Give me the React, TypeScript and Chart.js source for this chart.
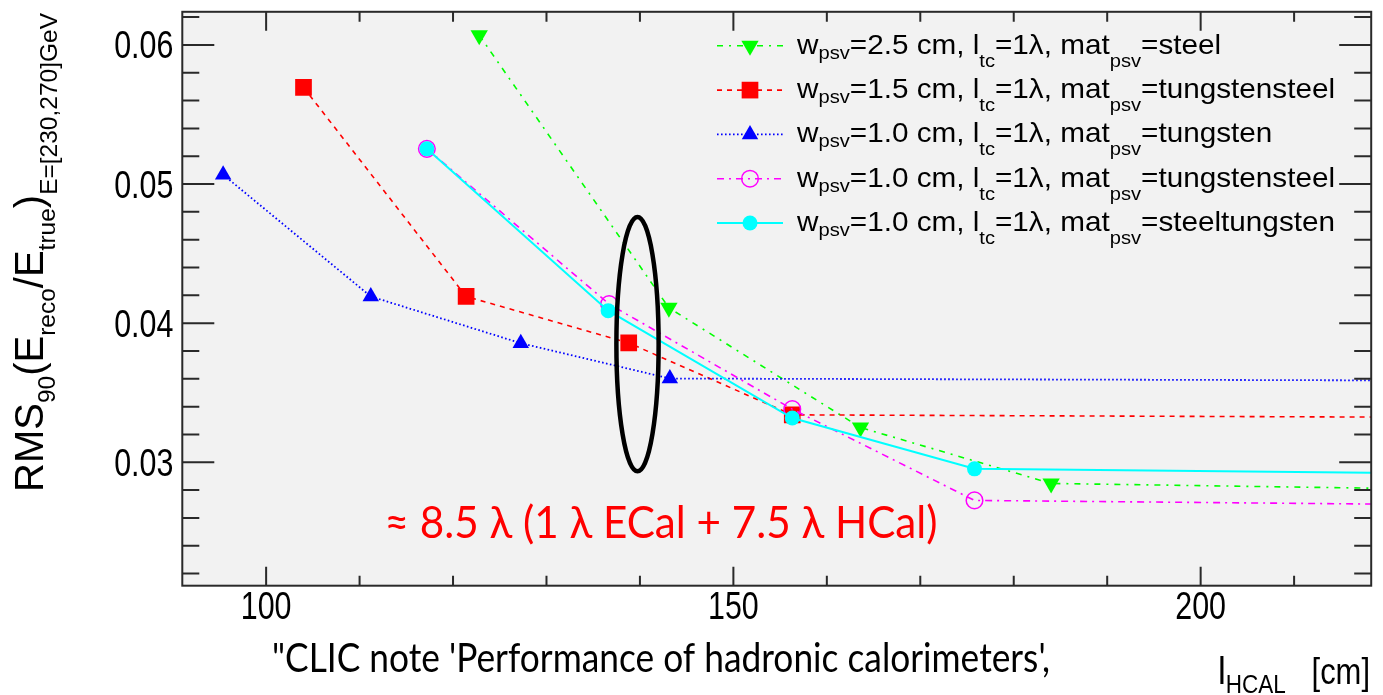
import React, { useEffect, useRef } from "react";
import { Chart, registerables } from "chart.js";

Chart.register(...registerables);

// ---------------- data ----------------
// l_HCAL [cm] and RMS90(Ereco/Etrue) for E in [230,270] GeV
const L_STEEL_25 = [122.8, 143.1, 163.6, 184.0];
const RMS_STEEL_25 = [0.0607, 0.0411, 0.0325, 0.02848];

const L_TUNGSTENSTEEL_15 = [104.0, 121.4, 138.8, 156.3];
const RMS_TUNGSTENSTEEL_15 = [0.05695, 0.04192, 0.03858, 0.03341];

const L_TUNGSTEN_10 = [95.4, 111.2, 127.25, 143.2];
const RMS_TUNGSTEN_10 = [0.05067, 0.04192, 0.03856, 0.03602];

const L_TUNGSTENSTEEL_10 = [117.2, 136.7, 156.3, 175.8];
const RMS_TUNGSTENSTEEL_10 = [0.05253, 0.04137, 0.03382, 0.02726];

const L_STEELTUNGSTEN_10 = [117.2, 136.6, 156.3, 175.8];
const RMS_STEELTUNGSTEN_10 = [0.05253, 0.0409, 0.03318, 0.02953];

// flat continuation of every curve to the end of the axis
const L_TAIL = 218.25;
const RMS_TAIL = [0.02814, 0.03325, 0.03589, 0.027, 0.02924];

// legend text parts
const W_PSV = ["2.5", "1.5", "1.0", "1.0", "1.0"];
const MAT_PSV = ["steel", "tungstensteel", "tungsten", "tungstensteel", "steeltungsten"];

// axes
const X_MIN = 91.03;
const X_MAX = 218.25;
const Y_MIN = 0.02113;
const Y_MAX = 0.06238;
const X_TICK_VALUES = [100, 110, 120, 130, 140, 150, 160, 170, 180, 190, 200, 210];
const X_TICK_LABELS = ["100", "150", "200"];
const Y_TICK_VALUES = [
  0.022, 0.024, 0.026, 0.028, 0.03, 0.032, 0.034, 0.036, 0.038, 0.04, 0.042,
  0.044, 0.046, 0.048, 0.05, 0.052, 0.054, 0.056, 0.058, 0.06, 0.062,
];
const Y_TICK_LABELS = ["0.03", "0.04", "0.05", "0.06"];

// annotation (ellipse in data units) and texts
const ELLIPSE_CENTER_L = 139.74;
const ELLIPSE_CENTER_RMS = 0.03849;
const ELLIPSE_HALF_L = 2.26;
const ELLIPSE_HALF_RMS = 0.00914;
const NOTE_TEXT = "≈ 8.5 λ (1 λ ECal + 7.5 λ HCal)";
const CITATION_TEXT = "\"CLIC note 'Performance of hadronic calorimeters',";

const SERIES = [
  { x: L_STEEL_25, y: RMS_STEEL_25 },
  { x: L_TUNGSTENSTEEL_15, y: RMS_TUNGSTENSTEEL_15 },
  { x: L_TUNGSTEN_10, y: RMS_TUNGSTEN_10 },
  { x: L_TUNGSTENSTEEL_10, y: RMS_TUNGSTENSTEEL_10 },
  { x: L_STEELTUNGSTEN_10, y: RMS_STEELTUNGSTEN_10 },
];

// ---------------- styles ----------------
const ROOT_FONT = '"Liberation Sans", Arial, Helvetica, sans-serif';
const SLIDE_FONT = 'Lato, "Open Sans", sans-serif';
const FRAME = "#2a2a2a";
const PLOT_BG = "#f2f2f2";

type St = { color: string; dash: number[]; width: number; marker: string; rot: number; r: number; fill: boolean };
const STYLES: St[] = [
  { color: "#00ff00", dash: [6, 6, 2, 6], width: 1.6, marker: "triangle", rot: 180, r: 10, fill: true },
  { color: "#ff0000", dash: [5, 5], width: 1.6, marker: "rect", rot: 0, r: 11.8, fill: true },
  { color: "#0000ff", dash: [1.6, 2.4], width: 1.8, marker: "triangle", rot: 0, r: 9.5, fill: true },
  { color: "#ff00ff", dash: [7, 5, 2, 5], width: 1.6, marker: "circle", rot: 0, r: 8.3, fill: false },
  { color: "#00ffff", dash: [], width: 2, marker: "circle", rot: 0, r: 7.5, fill: true },
];

type Seg = { t: string; size: number; dy: number };

function richWidth(ctx: CanvasRenderingContext2D, segs: Seg[], family: string) {
  let w = 0;
  for (const s of segs) {
    ctx.font = `${s.size}px ${family}`;
    w += ctx.measureText(s.t).width;
  }
  return w;
}

function drawRich(ctx: CanvasRenderingContext2D, segs: Seg[], x: number, y: number, sx: number, family: string, color: string) {
  ctx.save();
  ctx.translate(x, y);
  ctx.scale(sx, 1);
  ctx.fillStyle = color;
  ctx.textAlign = "left";
  ctx.textBaseline = "alphabetic";
  let cx = 0;
  for (const s of segs) {
    ctx.font = `${s.size}px ${family}`;
    ctx.fillText(s.t, cx, s.dy);
    cx += ctx.measureText(s.t).width;
  }
  ctx.restore();
}

function drawMarker(ctx: CanvasRenderingContext2D, st: St, x: number, y: number) {
  ctx.save();
  ctx.setLineDash([]);
  ctx.beginPath();
  const r = st.r;
  if (st.marker === "triangle") {
    let rad = (st.rot * Math.PI) / 180;
    for (let k = 0; k < 3; k++) {
      const px = x + Math.sin(rad) * r;
      const py = y - Math.cos(rad) * r;
      if (k === 0) ctx.moveTo(px, py);
      else ctx.lineTo(px, py);
      rad += (2 * Math.PI) / 3;
    }
    ctx.closePath();
  } else if (st.marker === "rect") {
    const s = Math.SQRT1_2 * r;
    ctx.rect(x - s, y - s, 2 * s, 2 * s);
  } else {
    ctx.arc(x, y, r, 0, Math.PI * 2);
  }
  if (st.fill) {
    ctx.fillStyle = st.color;
    ctx.fill();
  } else {
    ctx.strokeStyle = st.color;
    ctx.lineWidth = 1.5;
    ctx.stroke();
  }
  ctx.restore();
}

const decorPlugin = {
  id: "decor",
  beforeDraw(chart: any) {
    const { ctx, chartArea: a } = chart;
    ctx.save();
    ctx.fillStyle = "#ffffff";
    ctx.fillRect(0, 0, chart.width, chart.height);
    ctx.fillStyle = PLOT_BG;
    ctx.fillRect(a.left, a.top, a.right - a.left, a.bottom - a.top);
    ctx.restore();
  },
  afterDatasetsDraw(chart: any) {
    const { ctx, chartArea: a } = chart;
    const xs = chart.scales.x;
    const ys = chart.scales.y;
    ctx.save();

    // frame
    ctx.strokeStyle = FRAME;
    ctx.lineWidth = 2;
    ctx.setLineDash([]);
    ctx.strokeRect(a.left, a.top, a.right - a.left, a.bottom - a.top);

    // x ticks (bottom and top, pointing inwards)
    for (const v of X_TICK_VALUES) {
      const px = xs.getPixelForValue(v);
      const len = v % 50 === 0 ? 19 : 10;
      ctx.beginPath();
      ctx.moveTo(px, a.bottom);
      ctx.lineTo(px, a.bottom - len);
      ctx.moveTo(px, a.top);
      ctx.lineTo(px, a.top + len);
      ctx.stroke();
    }
    // y ticks (left and right)
    Y_TICK_VALUES.forEach((v) => {
      const py = ys.getPixelForValue(v);
      const major = Math.abs(v * 100 - Math.round(v * 100)) < 1e-6;
      const len = major ? 32 : 17;
      ctx.beginPath();
      ctx.moveTo(a.left, py);
      ctx.lineTo(a.left + len, py);
      ctx.moveTo(a.right, py);
      ctx.lineTo(a.right - len, py);
      ctx.stroke();
    });

    // tick labels
    ctx.fillStyle = "#000";
    ctx.font = `38px ${ROOT_FONT}`;
    for (const lab of Y_TICK_LABELS) {
      const py = ys.getPixelForValue(parseFloat(lab));
      ctx.save();
      ctx.translate(a.left - 9, py + 13.5);
      ctx.scale(0.8, 1);
      ctx.textAlign = "right";
      ctx.fillText(lab, 0, 0);
      ctx.restore();
    }
    for (const lab of X_TICK_LABELS) {
      const px = xs.getPixelForValue(parseFloat(lab));
      ctx.save();
      ctx.translate(px, a.bottom + 33);
      ctx.scale(0.8, 1);
      ctx.textAlign = "center";
      ctx.fillText(lab, 0, 0);
      ctx.restore();
    }

    // y title (rotated)
    ctx.save();
    ctx.translate(43, 492);
    ctx.rotate(-Math.PI / 2);
    drawRich(
      ctx,
      [
        { t: "RMS", size: 40, dy: 0 },
        { t: "90", size: 24.5, dy: 12 },
        { t: "(E", size: 40, dy: 0 },
        { t: "reco", size: 24.5, dy: 12 },
        { t: "/E", size: 40, dy: 0 },
        { t: "true", size: 24.5, dy: 12 },
        { t: ")", size: 40, dy: 0 },
        { t: "E=[230,270]GeV", size: 24.5, dy: 14 },
      ],
      0,
      0,
      1,
      ROOT_FONT,
      "#000"
    );
    ctx.restore();

    // x title
    drawRich(
      ctx,
      [
        { t: "l", size: 39, dy: 0 },
        { t: "HCAL", size: 25, dy: 9 },
      ],
      1218,
      a.bottom + 98,
      0.9,
      ROOT_FONT,
      "#000"
    );
    ctx.save();
    ctx.translate(1370, a.bottom + 98);
    ctx.scale(0.86, 1);
    ctx.font = `36px ${ROOT_FONT}`;
    ctx.textAlign = "right";
    ctx.fillText("[cm]", 0, 0);
    ctx.restore();

    // legend
    const rows: Seg[][] = W_PSV.map((w, i) => [
      { t: "w", size: 28, dy: 0 },
      { t: "psv", size: 19, dy: 5 },
      { t: `=${w} cm, l`, size: 28, dy: 0 },
      { t: "tc", size: 19, dy: 13 },
      { t: "=1λ, mat", size: 28, dy: 0 },
      { t: "psv", size: 19, dy: 13 },
      { t: `=${MAT_PSV[i]}`, size: 28, dy: 0 },
    ]);
    const legSx = 538 / richWidth(ctx, rows[1], ROOT_FONT);
    rows.forEach((segs, i) => {
      const st = STYLES[i];
      const yRow = a.top + 34 + i * 44.3;
      ctx.save();
      ctx.strokeStyle = st.color;
      ctx.lineWidth = st.width;
      ctx.setLineDash(st.dash);
      ctx.beginPath();
      ctx.moveTo(717, yRow);
      ctx.lineTo(783, yRow);
      ctx.stroke();
      ctx.restore();
      drawMarker(ctx, st, 750, yRow);
      drawRich(ctx, segs, 797, yRow + 8, legSx, ROOT_FONT, "#000");
    });

    // ellipse annotation
    const ecx = xs.getPixelForValue(ELLIPSE_CENTER_L);
    const ecy = ys.getPixelForValue(ELLIPSE_CENTER_RMS);
    const erx = Math.abs(xs.getPixelForValue(ELLIPSE_CENTER_L + ELLIPSE_HALF_L) - ecx);
    const ery = Math.abs(ys.getPixelForValue(ELLIPSE_CENTER_RMS + ELLIPSE_HALF_RMS) - ecy);
    ctx.beginPath();
    ctx.strokeStyle = "#000";
    ctx.lineWidth = 4.5;
    ctx.setLineDash([]);
    ctx.ellipse(ecx, ecy, erx, ery, 0, 0, Math.PI * 2);
    ctx.stroke();

    // red note
    ctx.font = `45px ${SLIDE_FONT}`;
    const nw = ctx.measureText(NOTE_TEXT).width;
    ctx.save();
    ctx.translate(384.5, 537.5);
    ctx.scale(553 / nw, 1);
    ctx.fillStyle = "#ff0000";
    ctx.textAlign = "left";
    ctx.fillText(NOTE_TEXT, 0, 0);
    ctx.restore();

    // citation
    ctx.font = `40px ${SLIDE_FONT}`;
    const cw = ctx.measureText(CITATION_TEXT).width;
    ctx.save();
    ctx.translate(272, 672);
    ctx.scale(778 / cw, 1);
    ctx.fillStyle = "#000";
    ctx.textAlign = "left";
    ctx.fillText(CITATION_TEXT, 0, 0);
    ctx.restore();

    ctx.restore();
  },
};

export default function App() {
  const ref = useRef<HTMLCanvasElement | null>(null);
  useEffect(() => {
    if (!ref.current) return;
    const datasets = SERIES.map((s, i) => {
      const st = STYLES[i];
      return {
        data: [...s.x.map((x, j) => ({ x, y: s.y[j] })), { x: L_TAIL, y: RMS_TAIL[i] }],
        borderColor: st.color,
        borderWidth: st.width,
        borderDash: st.dash,
        pointStyle: st.marker,
        pointRotation: st.rot,
        pointRadius: [...s.x.map(() => st.r), 0],
        pointHoverRadius: 0,
        pointBackgroundColor: st.fill ? st.color : "rgba(0,0,0,0)",
        pointBorderColor: st.color,
        pointBorderWidth: st.fill ? 0 : 1.5,
        fill: false,
        tension: 0,
        order: 4 - i,
      };
    });
    const chart = new Chart(ref.current, {
      type: "line",
      data: { datasets } as any,
      options: {
        animation: false,
        responsive: false,
        devicePixelRatio: 1,
        layout: { padding: { left: 182.3, right: 4, top: 9, bottom: 109.3 } },
        plugins: { legend: { display: false }, tooltip: { enabled: false } },
        events: [],
        scales: {
          x: { type: "linear", min: X_MIN, max: X_MAX, display: false },
          y: { type: "linear", min: Y_MIN, max: Y_MAX, display: false },
        },
      } as any,
      plugins: [decorPlugin],
    });
    return () => chart.destroy();
  }, []);
  return (
    <div style={{ position: "fixed", left: 0, top: 0, width: 1383, height: 695, background: "#fff" }}>
      <canvas ref={ref} width={1383} height={695} style={{ display: "block" }} />
    </div>
  );
}
